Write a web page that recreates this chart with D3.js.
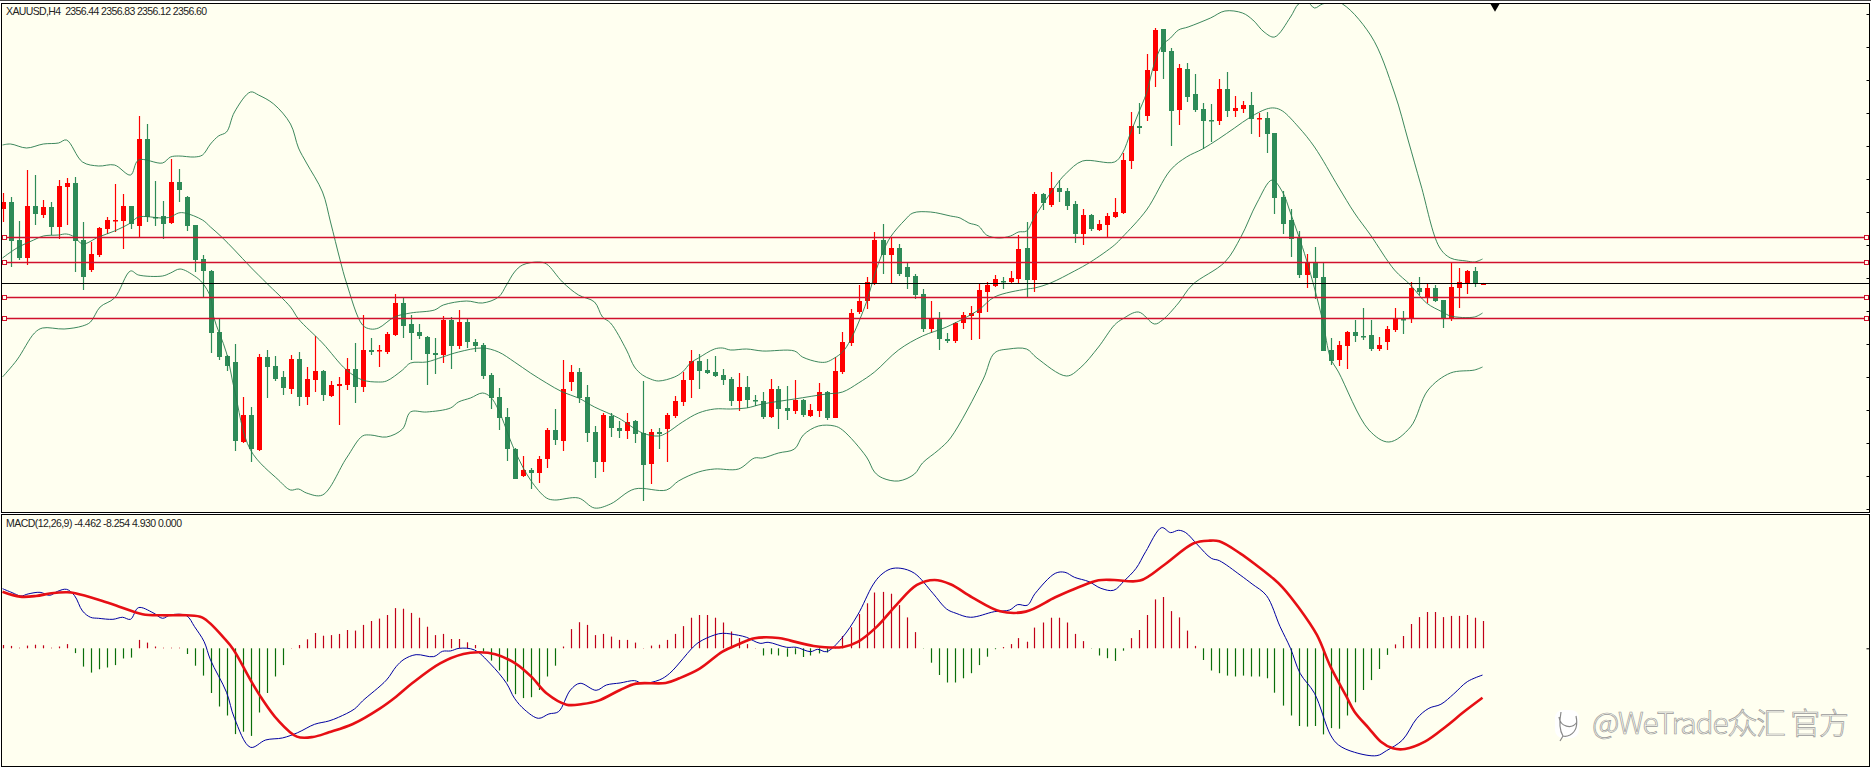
<!DOCTYPE html>
<html>
<head>
<meta charset="utf-8">
<script src="https://cdn.jsdelivr.net/npm/d3@7"></script>
<style>
  html, body { margin: 0; padding: 0; background: #fff; }
  svg { display: block; }
</style>
</head>
<body>
<svg width="1871" height="768"></svg>
<script>
let width = 1871,
    height = 768;

let priceLabel = "XAUUSD,H4  2356.44 2356.83 2356.12 2356.60";
let macdLabel = "MACD(12,26,9) -4.462 -8.254 4.930 0.000";
let watermark = "@WeTrade众汇 官方";

// candles, one value per H4 bar
let opens = [2386.4,2389.2,2374,2366.8,2387.6,2384,2387.2,2379.2,2395.2,2396.8,2374,2362,2368,2378.4,2381.6,2381.6,2387.6,2379.6,2414.4,2383.2,
  2383.6,2380.8,2397.2,2391.2,2380,2366.4,2361.6,2337.2,2327.6,2325.2,2293.2,2304,2290,2327.2,2323.6,2319.2,2314.4,2326.4,2311.2,2318,
  2321.6,2311.6,2315.6,2316,2322.4,2315.2,2330,2329.6,2329.2,2336,2348.8,2340.4,2337.2,2335.2,2328.8,2328,2342,2331.6,2341.2,2333.2,
  2332,2320,2311.2,2303.2,2290.4,2279.6,2282,2280.8,2286.4,2298,2293.6,2317.2,2321.2,2311.2,2297.2,2285.2,2303.6,2298.8,2297.6,2301.6,
  2296.8,2284.4,2297.2,2298.4,2303.6,2309.2,2318,2325.6,2322,2321.2,2320,2318.4,2309.6,2315.2,2310,2309.6,2303.2,2314.4,2306.8,2305.6,
  2310,2303.6,2305.6,2313.2,2302.8,2321.2,2332.8,2345.2,2349.6,2356.8,2374,2368,2370.8,2363.2,2359.6,2352.4,2338.4,2342.8,2334.4,2333.6,
  2340.8,2343.6,2344.8,2353.2,2355.6,2357.6,2357.2,2358.4,2370.8,2358,2392.4,2388,2394.8,2393.6,2388.4,2376.4,2384,2378,2380,2383.2,
  2384.8,2405.6,2419.6,2423.6,2441.6,2458.4,2449.6,2426,2442.4,2432.4,2426.4,2422,2421.6,2434.4,2425.6,2426.4,2428,2422.4,2422.8,2416.8,
  2391.2,2382,2374.8,2360,2365.2,2359.2,2330,2326,2331.6,2337.2,2335.6,2336,2330.4,2333.2,2338,2342.4,2342.4,2354.8,2350.8,2354.8,
  2350,2342.8,2354.8,2356.8,2361.6,2356.44];
let highs = [2392.8,2391.2,2381.6,2402,2400,2390,2389.2,2398,2398.8,2399.2,2381.2,2373.2,2379.2,2383.2,2396.4,2392.4,2387.6,2423.6,2420.4,2397.6,
  2389.6,2406.4,2402.4,2391.6,2380,2368,2362,2342.8,2328,2332.4,2311.2,2307.2,2328.4,2330,2327.6,2321.6,2328,2329.2,2323.2,2335.6,
  2322,2317.6,2319.2,2326.8,2332.8,2344,2334.8,2332,2337.2,2352.4,2350.8,2344,2340.4,2335.6,2334.8,2343.6,2343.2,2346,2342.8,2334.4,
  2332.8,2320.8,2314.8,2306.8,2290.8,2287.6,2282.8,2287.6,2298.8,2306.4,2326,2324,2322.8,2316,2299.6,2304.8,2304.8,2301.6,2304.8,2302,
  2317.6,2298.4,2298.8,2304.8,2311.6,2321.2,2330,2328.4,2326.4,2327.6,2322.4,2319.2,2320.8,2319.6,2312,2313.2,2318.4,2315.6,2315.6,2318,
  2310.4,2308.4,2316.8,2313.6,2327.2,2337.2,2346.4,2356,2359.2,2377.2,2380.4,2375.2,2372.4,2365.2,2360.4,2354.4,2349.6,2345.2,2336.8,2341.2,
  2345.2,2347.6,2356.8,2357.2,2360,2359.2,2361.6,2376,2381.2,2393.2,2392.8,2401.2,2398,2394.8,2389.6,2386.4,2384.4,2382,2384.8,2390.8,
  2408.8,2425.2,2428.8,2448.4,2458.8,2458.4,2450.8,2444.4,2444.8,2440.4,2428.8,2428.4,2438.4,2441.2,2431.6,2429.6,2433.2,2424.8,2425.2,2416.8,
  2393.6,2386.4,2377.6,2368.4,2371.2,2365.2,2334.8,2333.6,2337.6,2342,2346.8,2342,2335.2,2339.6,2346.8,2345.6,2357.2,2359.2,2356.4,2356,
  2350,2365.2,2362.8,2362,2363.2,2356.83];
let lows = [2381.2,2363.2,2366,2364,2380,2382.8,2376,2374.4,2380,2361.2,2354,2361.2,2367.2,2376.4,2377.2,2370.4,2378.4,2375.2,2381.2,2379.6,
  2374.4,2380.4,2389.2,2377.6,2361.2,2351.2,2328.8,2326,2321.6,2289.6,2292.8,2285.2,2289.6,2310.8,2317.6,2312,2312.4,2307.6,2308,2313.2,
  2309.6,2311.2,2300,2314,2308.8,2313.2,2328,2323.2,2328.4,2335.6,2334.8,2326,2334.4,2316,2320.4,2324.8,2322.4,2330.4,2330.8,2329.2,
  2318.4,2306.4,2298,2285.6,2278.4,2279.2,2274.4,2276.8,2282.8,2292,2289.6,2313.6,2308.8,2293.2,2278.8,2281.2,2295.2,2294.8,2294.4,2292.8,
  2269.6,2276.4,2290.4,2285.2,2302.8,2307.6,2310.8,2314.4,2320.4,2319.2,2316,2307.6,2305.6,2306.8,2307.6,2302.4,2302.8,2298.4,2302,2304.4,
  2303.2,2303.2,2303.2,2302,2302.8,2320.4,2331.6,2344.4,2346.4,2356,2360.4,2356.4,2359.6,2354.4,2350.4,2337.2,2336.8,2330,2332.8,2332.8,
  2338.4,2334,2334.4,2345.2,2355.2,2354.4,2356.4,2356.8,2351.2,2353.2,2386,2387.2,2389.2,2386,2372.8,2372,2377.6,2377.6,2375.2,2382.8,
  2384.4,2402.4,2416.4,2421.6,2435.2,2438.4,2411.6,2420,2429.2,2425.2,2410.4,2413.2,2420,2423.2,2423.2,2424.8,2416.4,2415.2,2408.8,2384.4,
  2376.4,2367.2,2358.8,2354.8,2350.4,2329.6,2324,2323.6,2322.4,2333.2,2334,2329.6,2329.6,2330,2337.2,2336.4,2340.8,2352,2348.8,2349.2,
  2338.8,2341.6,2346.8,2352.4,2355.2,2356.12];
let closes = [2389.2,2373.6,2366.8,2387.6,2384.4,2387.2,2379.2,2395.6,2396.8,2373.6,2359.2,2368.4,2378.8,2382,2382,2387.6,2380.4,2414.4,2383.2,2382.8,
  2380.4,2397.2,2394,2379.6,2366,2361.6,2336.8,2327.2,2323.6,2293.6,2304,2290.4,2327.2,2323.2,2318.4,2314.8,2326.4,2311.2,2318.4,2321.6,
  2312,2316,2316.4,2322.4,2315.2,2330,2329.2,2330,2336.4,2348.8,2339.6,2336.8,2335.6,2328.4,2328,2342,2331.6,2341.2,2333.2,2331.6,
  2319.6,2310.8,2302.8,2290.4,2278.4,2282,2280.8,2286.4,2298,2294,2314.4,2321.2,2310.8,2296.8,2285.2,2304,2298.8,2297.6,2301.2,2296.4,
  2284,2297.2,2296.4,2304,2309.6,2318,2325.6,2321.6,2320.8,2319.6,2318,2309.6,2315.2,2310,2309.6,2303.2,2314.4,2306.4,2305.6,2310,
  2304,2306,2313.2,2302.8,2321.6,2333.2,2344.8,2349.6,2357.2,2374,2368,2370.8,2360.4,2359.2,2352,2338.4,2342.8,2334.4,2333.6,2340.8,
  2344,2344.8,2354,2356,2358.4,2357.2,2358.8,2370.4,2358,2392.4,2388.8,2394.8,2393.2,2387.6,2376.4,2384,2378.4,2380.4,2383.6,2385.2,
  2406,2419.6,2418.8,2442,2458,2449.2,2425.6,2442.8,2431.2,2426,2421.6,2421.6,2434.4,2425.6,2426.8,2428,2422.4,2422.8,2416.4,2390.8,
  2380.4,2374.4,2360,2365.2,2358.8,2329.6,2325.6,2332,2337.2,2335.6,2335.2,2330.4,2332,2338.4,2342.8,2342,2354.8,2353.2,2354.8,2349.6,
  2342.8,2355.2,2357.2,2361.6,2356.8,2356.60];

// bollinger bands, [bar, price] vertices
let upperBand = [[0,2412],[1,2412.4],[3,2410.8],[5.1,2412.4],[7,2412.8],[8,2414],[10,2405.2],[12,2403.6],[14,2404],[16,2400],[17,2406],[20,2404.8],[21,2407.2],[22,2407.6],[24,2407.2],[25,2408],[26,2412.4],[27,2415.6],[28,2417.2],[29,2425.2],[31,2433.2],[32,2432],[33.9,2428.4],[36,2420.4],[37,2410.8],[38,2404.8],[40,2393.2],[41,2381.2],[42.2,2366],[43,2356.8],[45,2340],[46,2338.4],[47,2338.8],[49,2343.2],[51,2344.8],[54,2346],[55.1,2348],[58,2349.6],[60,2348.8],[62,2351.2],[63,2356],[64,2361.2],[65,2364],[67,2365.2],[68,2364.4],[70,2357.2],[72,2352],[74,2349.2],[75,2343.2],[76,2340.8],[78,2330],[79,2323.2],[80,2320],[81,2318.4],[82,2317.6],[84,2319.2],[85,2321.2],[86,2324.8],[87,2326.8],[89,2330.4],[90,2330.8],[91,2330],[93,2330.4],[95,2329.6],[99,2329.6],[100,2327.2],[102,2325.2],[103,2325.2],[104,2326.8],[105,2329.2],[106,2334],[108,2349.2],[109,2360],[110,2368.8],[111,2375.2],[112.8,2382],[113.8,2384.8],[116,2385.2],[118.5,2383.6],[119.7,2382.8],[120.8,2380.8],[122,2379.6],[123,2376],[124.5,2374.8],[126,2375.6],[127,2377.2],[128,2377.6],[129,2383.2],[132,2397.2],[133,2400.8],[135,2405.6],[139,2405.2],[140,2408.8],[141,2416.8],[142,2424.8],[143,2432.8],[144,2444.8],[145,2452],[146,2454.8],[147,2458],[148.2,2459.2],[151,2462.8],[152.8,2465.6],[155,2464.8],[156.3,2462],[157.7,2457.2],[159,2455.2],[161,2463.2],[162,2468.4],[163,2469.6],[164,2466.8],[165,2468.4],[167,2469.2],[171,2456],[174,2432.8],[175.7,2414],[177.3,2396],[179.6,2371.2],[181,2366.8],[183,2365.6],[184,2365.2],[185,2366.4]];
let middleBand = [[0,2366.8],[1.8,2370.8],[3.9,2374],[5.1,2375.6],[7,2376],[8,2376.4],[9,2375.2],[10,2372.4],[12,2375.2],[14,2377.6],[16,2380.8],[17,2383.2],[20,2382.8],[21,2383.2],[22,2384.8],[22.8,2384.8],[25,2382],[26,2379.2],[27.4,2375.2],[29,2370],[31,2363.2],[33,2356.8],[36,2347.2],[37,2342.4],[40,2332.8],[43,2322],[45,2318],[47,2317.2],[48,2317.6],[50,2322],[51,2324.8],[53,2325.2],[55,2327.2],[57,2329.2],[60,2330.8],[62,2329.2],[64,2325.2],[66,2320.8],[68,2316.8],[70,2313.2],[72,2310.8],[74,2307.2],[77,2302.8],[80,2296.8],[82,2295.6],[83,2296.8],[85,2301.2],[87,2304.8],[89,2306.4],[91,2306.4],[93,2306.8],[95,2308.4],[99,2310.4],[103,2312.4],[105,2313.2],[107,2316.8],[109,2321.2],[112,2330],[115,2335.6],[118,2339.2],[122,2346],[124,2351.2],[128,2354.4],[129,2354.8],[131,2356.8],[134,2361.6],[136,2365.2],[139,2372],[140,2375.2],[143,2386],[146,2402],[148,2407.2],[150,2410.4],[152,2414.4],[154,2418.8],[156,2423.2],[158,2426.4],[159,2426.8],[160,2425.6],[162,2419.2],[164,2411.2],[167,2395.2],[169,2384.8],[171,2376],[174,2362],[176,2356],[178,2348.8],[180,2345.2],[181,2343.6],[184,2343.2],[185,2344.8]];
let lowerBand = [[0,2319.2],[1.8,2326],[4,2336.8],[5,2338.8],[7.7,2338.4],[10,2339.6],[11,2341.2],[12.2,2347.2],[14,2350.8],[16,2361.6],[17,2360],[20,2359.6],[21,2360.8],[22.2,2362.4],[24,2359.6],[25,2356.8],[26,2351.2],[26.4,2343.2],[28,2328.8],[29,2314],[31,2290],[34.5,2278],[36,2274],[37,2274.4],[38,2272.8],[40,2272],[43,2286.8],[45,2295.6],[46,2296],[48,2295.2],[50,2298.4],[51,2305.2],[53,2305.2],[56,2306.8],[57,2309.2],[58.5,2310.8],[60,2312.8],[61,2311.2],[62,2306],[64,2290],[66,2278],[68,2270.8],[69,2270],[72,2270.8],[74,2266.8],[76,2268.4],[79,2274.4],[83,2274],[84.5,2277.6],[87,2281.2],[89,2282.4],[92,2282.4],[94,2286.8],[95,2286.8],[97,2288.8],[99,2290.4],[100.1,2296],[102,2299.6],[104,2299.6],[105,2298],[108,2287.2],[109,2281.2],[110,2278.8],[112,2277.6],[114,2280.4],[115,2284.8],[117,2290],[118.5,2294.8],[122.6,2318.4],[124,2328.8],[125.8,2330.4],[128,2330.4],[129.3,2326.8],[133,2319.6],[134.7,2322.8],[137,2331.2],[139,2340],[140,2342.4],[142,2345.2],[144,2340.4],[145,2342],[147,2348.8],[148.7,2356],[152.8,2365.2],[154.8,2375.2],[156.8,2388.8],[158.7,2398],[160,2393.2],[161,2384.8],[163,2366],[165,2342],[166,2326.8],[167,2321.2],[170.8,2298],[173.3,2293.2],[176,2299.2],[178.2,2314],[181,2320.8],[184,2322],[185,2323.2]];

let levels = [2375, 2365, 2351, 2342.6];
let lastPrice = 2356.6;
let priceTicks = [2464.4,2451.2,2438,2424.8,2411.6,2398.4,2385.2,2372,2358.8,2345.6,2332.4,2319.2,2306,2292.8,2279.6,2266.4];

// macd histogram, one value per bar
let histogram = [0.55,0.4,0.1,0.45,0.6,0.5,0.1,0.3,0.7,-0.8,-3.05,-4.05,-3.5,-3.2,-2.8,-1.7,-1.55,1.4,0.95,0.3,
  0.1,0.1,0.1,-0.95,-2.9,-4.55,-7.45,-9.7,-11.2,-14.3,-13.9,-14.6,-10.7,-7.45,-4.7,-2.8,0.05,0.55,1.5,2.55,
  2.1,2.2,2.4,3.05,2.95,3.9,4.55,4.95,5.55,6.7,6.6,5.9,5.1,3.6,2.2,2.4,1.55,1.55,1,0.55,
  -0.55,-2.05,-3.7,-5.55,-7.65,-8.3,-8.15,-6.95,-4.7,-2.9,0.3,3.2,4.35,3.9,2.2,2.4,1.95,1.4,1.4,0.95,
  0.05,0.45,0.6,1.4,2.4,3.7,5.1,5.55,5.55,5.1,4.3,2.8,1.7,0.7,0.05,-1.2,-1,-1.2,-1.4,-1,
  -1.45,-1.2,-0.85,-0.7,0.1,2.05,3.5,5.7,7.5,9.3,9.4,9.1,7.2,5.15,2.7,-0.05,-2.4,-4.45,-5.7,-5.7,
  -5,-4.15,-2.8,-1.4,-0.15,0.2,0.7,1.7,1.1,3.45,4.3,5.1,5.1,4.3,2.4,1.2,-0.05,-1.2,-1.65,-2.1,
  -0.4,1.7,3.05,5.55,8.15,8.55,6.2,5.15,2.95,0.4,-1.95,-3.7,-4.15,-4.55,-4.7,-4.55,-4.7,-4.7,-5,-7.4,
  -9.55,-11.2,-12.95,-13.05,-12.95,-14.35,-13.3,-13.4,-11.2,-9,-6.95,-5.3,-3.45,-1.1,0.65,2.05,4.05,5.2,6.05,6.05,
  5.2,5.4,5.4,5.55,5.1,4.55];

// macd lines, [bar, value] vertices
let macdLine = [[0,9.94],[1.2,9.28],[2.3,8.72],[3.2,9.06],[4.7,9.33],[5.9,8.83],[6.9,9.5],[8,9.83],[9,8.78],[10,6.22],[11,5.17],[12,5],[13.8,4.83],[15,5.17],[16,4.83],[17,6.78],[18.8,5.94],[20,5],[21,5.56],[23,5.44],[24,3.61],[25.2,1.11],[26,-1.94],[28,-7.33],[29,-11.67],[31,-16.5],[32.9,-15.28],[35,-14.94],[36.9,-14.06],[39,-12.67],[40.8,-12.11],[42,-11.5],[44,-10.11],[45,-8.78],[48,-5.28],[49.2,-3.06],[50.2,-1.83],[51.7,-1.06],[53.9,-1.39],[55,-0.5],[56,-0.44],[57.1,0],[59,-0.28],[61,-2.61],[63,-5.83],[64,-8.33],[65.3,-10.28],[67,-11.67],[68.3,-10.94],[69.5,-10.56],[71,-6.94],[72.2,-5.83],[74.2,-7],[75.5,-6.11],[77.2,-5.78],[79,-5.39],[80,-5.83],[82.1,-5.28],[83.4,-4.17],[85.1,-1.67],[86.1,-0.11],[87.1,1.06],[89,2.22],[90,2.5],[92,2.17],[93,1.83],[94.7,0.83],[95.7,1],[98,0.17],[99.2,0.17],[101,-0.56],[101.9,-0.17],[103,-0.56],[104.9,1.67],[106.9,5.56],[108.8,10.56],[109.8,12.22],[111,13.22],[112.3,13.33],[114,12.5],[116.3,9.17],[118,6.56],[119.2,5.83],[121,5.17],[124,6.11],[125.9,6.39],[126.9,7.28],[128.1,7.17],[129.1,9.17],[131.6,12.5],[132.8,12.67],[134,11.83],[135.8,11.11],[137.3,10],[138.9,9.67],[140.2,11.22],[141.7,13.33],[142.9,16.11],[144.9,20.11],[146,19.28],[147,19.67],[147.9,19.28],[149.4,17.22],[151.1,15],[152.1,14.61],[154.7,12.22],[156.2,10.72],[158,8.78],[159.7,3.61],[161,0],[162.2,-4.17],[164,-7.5],[166,-14.44],[167,-16.11],[169,-17.33],[171.8,-17.89],[173,-17.06],[175,-15.28],[176.8,-11.67],[178.3,-10],[179.8,-9.33],[181.4,-7.61],[183.1,-5.56],[185,-4.46]];
let signalLine = [[0,9.44],[2.2,8.61],[4.2,8.72],[6.1,9.17],[8.1,9.33],[9.1,9.17],[12.1,8.06],[14.6,6.94],[17.5,5.67],[20,5.5],[23,5.5],[25,5.11],[27.9,1.39],[28.9,-0.28],[31,-5.28],[32.4,-8.33],[34.4,-11.94],[36.8,-14.72],[38.8,-14.78],[40.8,-14],[43.8,-12.61],[47.2,-10],[49.2,-8.06],[51.2,-5.83],[54.7,-2.5],[57.6,-0.94],[59.6,-0.67],[61.6,-1],[64.1,-2.5],[66.1,-4.72],[68,-7.5],[70.5,-9.39],[72.5,-9.28],[74.5,-8.72],[77.2,-6.94],[79.2,-5.89],[82.9,-5.78],[84.6,-5],[87.1,-3.44],[90,-0.56],[92,0.67],[94,1.67],[97,1.72],[98.5,1.28],[101.4,0.39],[105.1,0.22],[106.9,1.06],[109.3,3.61],[111.8,7.33],[114.3,10.56],[116.5,11.39],[118.5,10.67],[121.2,8.5],[124.7,6.17],[127.9,6.11],[131.6,8.5],[134.5,10.17],[137,11.33],[139,11.39],[142.2,11.28],[145.2,13.89],[148.9,17.5],[150.9,17.94],[152.1,17.83],[154.7,15.83],[156.7,13.89],[158.7,11.78],[160,10.17],[162,6.83],[164.3,2.22],[166,-3.06],[168,-8.06],[169,-10.56],[170.8,-13.33],[172.3,-15.56],[173.8,-16.67],[175.3,-16.78],[177.8,-15.56],[180.4,-13.06],[182.6,-10.67],[185,-8.25]];
let macdTicks = [0];

let bg = "#fffff0",
    bull = "#ff0000",
    bear = "#2e8b57",
    levelColor = "#d0102c";

let bars = d3.range(opens.length);

let x = d3.scaleLinear().domain([0, 185]).range([2.5, 1482.5]);
let y = d3.scaleLinear().domain([2470, 2162.8]).range([0, 768]);
let yMacd = d3.scaleLinear().domain([0, 20]).range([648.3, 528.3]);

let svg = d3.select("svg");

// white strip behind the window lines
svg.append("rect").attr("width", width).attr("height", height).attr("fill", "#fff");

let defs = svg.append("defs");
defs.append("clipPath").attr("id", "priceClip").append("rect")
  .attr("x", 2).attr("y", 4).attr("width", 1867).attr("height", 508);
defs.append("clipPath").attr("id", "macdClip").append("rect")
  .attr("x", 2).attr("y", 515).attr("width", 1867).attr("height", 251);

svg.append("line")
  .attr("x1", 0).attr("x2", width).attr("y1", 0.5).attr("y2", 0.5)
  .attr("stroke", "#444");

let panels = [[3.5, 509], [514.5, 252]];
svg.selectAll("rect.panel")
  .data(panels)
  .enter().append("rect")
    .attr("class", "panel")
    .attr("x", 1.5)
    .attr("y", d => d[0])
    .attr("width", 1868)
    .attr("height", d => d[1])
    .attr("fill", bg)
    .attr("stroke", "#000");

let price = svg.append("g").attr("clip-path", "url(#priceClip)");

let candleColor = i => closes[i] >= opens[i] ? bull : bear;

// wicks
price.append("g")
  .selectAll("line")
  .data(bars)
  .enter().append("line")
    .attr("x1", i => Math.round(x(i)) + 0.5)
    .attr("x2", i => Math.round(x(i)) + 0.5)
    .attr("y1", i => y(highs[i]))
    .attr("y2", i => y(lows[i]))
    .attr("stroke", candleColor)
    .attr("stroke-width", 1.2);

// bodies
price.append("g")
  .selectAll("rect")
  .data(bars)
  .enter().append("rect")
    .attr("x", i => Math.round(x(i)) - 2)
    .attr("y", i => y(Math.max(opens[i], closes[i])))
    .attr("width", 5)
    .attr("height", i => Math.max(1.5, Math.abs(y(opens[i]) - y(closes[i]))))
    .attr("fill", candleColor);

let bandLine = d3.line()
  .x(d => x(d[0]))
  .y(d => y(d[1]))
  .curve(d3.curveCatmullRom);

price.append("g")
  .selectAll("path")
  .data([upperBand, middleBand, lowerBand])
  .enter().append("path")
    .attr("d", bandLine)
    .attr("fill", "none")
    .attr("stroke", "#27794c")
    .attr("stroke-width", 0.9);

// horizontal levels with their handles at both ends
let levelGroup = svg.append("g");
levelGroup.selectAll("line")
  .data(levels)
  .enter().append("line")
    .attr("x1", 2)
    .attr("x2", 1869)
    .attr("y1", d => y(d))
    .attr("y2", d => y(d))
    .attr("stroke", levelColor)
    .attr("stroke-width", 1.4);

svg.append("line")
  .attr("x1", 2)
  .attr("x2", 1869)
  .attr("y1", y(lastPrice))
  .attr("y2", y(lastPrice))
  .attr("stroke", "#000")
  .attr("stroke-width", 1.2);

[4.5, 1866.5].forEach(hx => {
  levelGroup.append("g")
    .selectAll("rect")
    .data(levels)
    .enter().append("rect")
      .attr("x", hx - 2)
      .attr("y", d => y(d) - 2)
      .attr("width", 4)
      .attr("height", 4)
      .attr("fill", bg)
      .attr("stroke", levelColor);
});

// price and macd ticks on the inside of the right edge, no labels in the picture
svg.append("g")
  .attr("transform", "translate(1869.5,0)")
  .call(d3.axisLeft(y).tickValues(priceTicks).tickSize(3).tickFormat(""))
  .call(g => g.select(".domain").remove());

svg.append("g")
  .attr("transform", "translate(1869.5,0)")
  .call(d3.axisLeft(yMacd).tickValues(macdTicks).tickSize(3).tickFormat(""))
  .call(g => g.select(".domain").remove());

// shift marker
svg.append("path")
  .attr("d", d3.symbol(d3.symbolTriangle, 42))
  .attr("transform", "translate(1495,6) rotate(180)")
  .attr("fill", "#000");

let macd = svg.append("g").attr("clip-path", "url(#macdClip)");

macd.append("g")
  .selectAll("line")
  .data(bars)
  .enter().append("line")
    .attr("x1", i => Math.round(x(i)) + 0.5)
    .attr("x2", i => Math.round(x(i)) + 0.5)
    .attr("y1", yMacd(0))
    .attr("y2", i => yMacd(histogram[i]))
    .attr("stroke", i => histogram[i] >= 0 ? "#c00018" : "#0a6e0a")
    .attr("stroke-width", 1.2);

let macdPath = d3.line()
  .x(d => x(d[0]))
  .y(d => yMacd(d[1]))
  .curve(d3.curveCatmullRom);

macd.append("path")
  .attr("d", macdPath(macdLine))
  .attr("fill", "none")
  .attr("stroke", "#0000a0")
  .attr("stroke-width", 1);

macd.append("path")
  .attr("d", macdPath(signalLine))
  .attr("fill", "none")
  .attr("stroke", "#e60f14")
  .attr("stroke-width", 2.6);

// labels
svg.append("text")
  .attr("x", 6)
  .attr("y", 15)
  .attr("textLength", 201)
  .style("white-space", "pre")
  .style("font", "10.5px 'Liberation Sans'")
  .attr("fill", "#222")
  .text(priceLabel);

svg.append("text")
  .attr("x", 6)
  .attr("y", 527)
  .attr("textLength", 176)
  .style("font", "10.5px 'Liberation Sans'")
  .attr("fill", "#222")
  .text(macdLabel);

// watermark
let mark = svg.append("g");
mark.append("rect")
  .attr("x", 1555).attr("y", 710).attr("width", 24).attr("height", 28).attr("rx", 8)
  .attr("fill", "#fff");
mark.append("path")
  .attr("d", "M1577 722 a10 11 0 0 1 -18 -5 M1561 712 q-3 16 2 24 l-3 5 M1576 716 q3 14 -6 19 q-4 2 -7 1")
  .attr("fill", "none")
  .attr("stroke", "#888")
  .attr("stroke-width", 1.2);
mark.append("text")
  .attr("x", 1592)
  .attr("y", 734)
  .attr("textLength", 257)
  .style("font", "300 30px 'Noto Sans CJK SC'")
  .attr("fill", "#fdfdf2")
  .attr("stroke", "#9a9a9a")
  .attr("stroke-width", 0.7)
  .text(watermark);
</script>
</body>
</html>
